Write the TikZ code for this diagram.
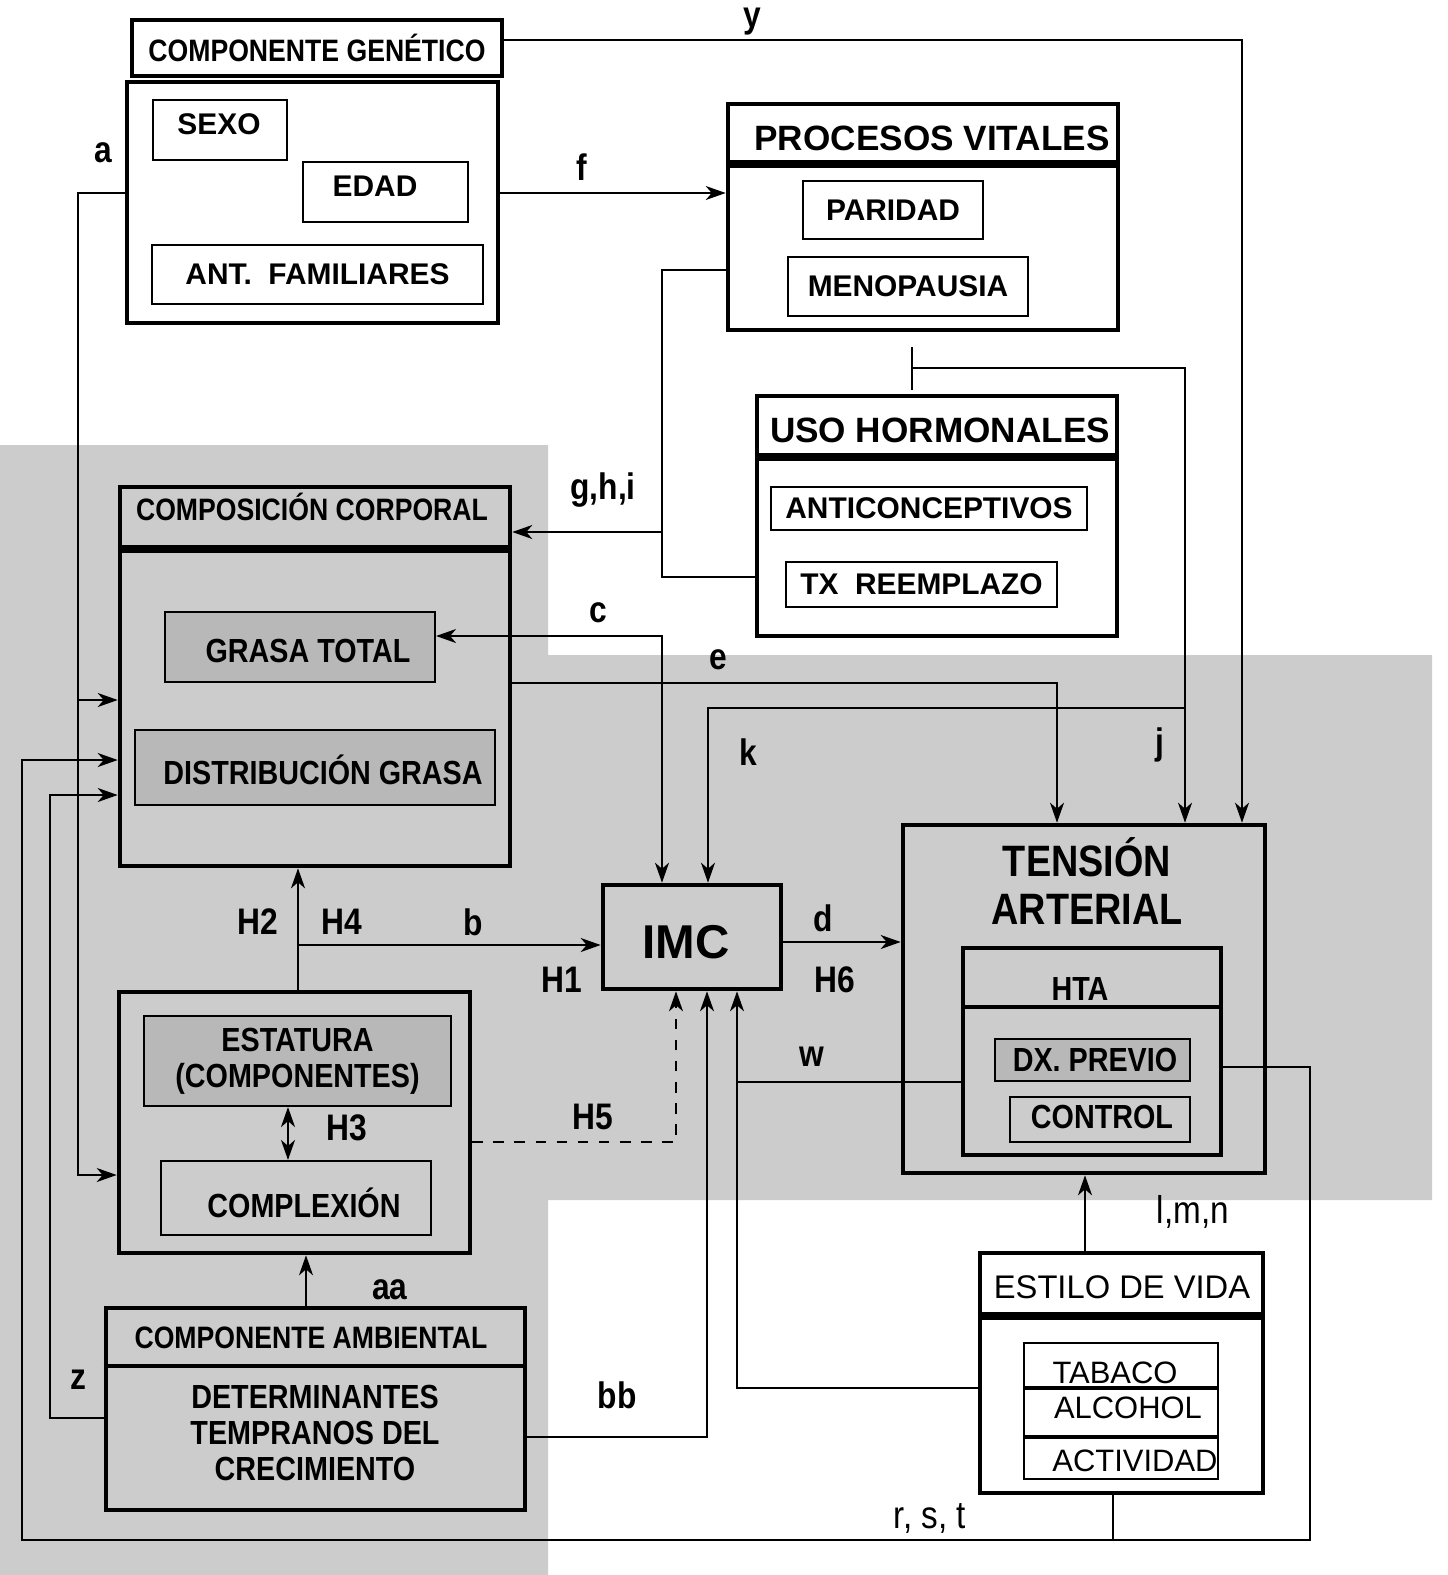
\documentclass[tikz,border=0pt]{standalone}
\usepackage{fontspec}
\setmainfont{Liberation Sans}
\newfontfamily\narrowsf[FakeStretch=0.86]{Liberation Sans}
\usetikzlibrary{positioning,arrows.meta,fit,calc}
\definecolor{bggray}{gray}{0.80}
\definecolor{boxgray}{gray}{0.72}
\tikzset{
  bigbox/.style={draw,line width=1.3pt,inner sep=0pt},
  midbox/.style={draw,line width=1.1pt,inner sep=0pt},
  smallbox/.style={draw,line width=0.6pt,inner sep=0pt},
  graybox/.style={fill=boxgray},
  sepline/.style={line width=2.1pt},
  link/.style={line width=0.55pt},
  arr/.style={link,-{Stealth[length=2mm,width=1.4mm,inset=0.6mm]}},
  dblarr/.style={link,{Stealth[length=2mm,width=1.4mm,inset=0.6mm]}-{Stealth[length=2mm,width=1.4mm,inset=0.6mm]}},
  bigtxt/.style={font=\bfseries\fontsize{10}{12}\selectfont,inner sep=0pt},
  wtxt/.style={font=\bfseries\fontsize{8.5}{10}\selectfont,inner sep=0pt},
  hdtxt/.style={font=\narrowsf\bfseries\fontsize{8.8}{10}\selectfont,inner sep=0pt},
  gtxt/.style={font=\narrowsf\bfseries\fontsize{9.5}{10.3}\selectfont,inner sep=0pt},
  tatxt/.style={font=\narrowsf\bfseries\fontsize{12.5}{13.7}\selectfont,inner sep=0pt},
  rtxt/.style={font=\fontsize{9.3}{11}\selectfont,inner sep=0pt},
  lsttxt/.style={font=\fontsize{8.8}{10}\selectfont,inner sep=0pt},
  lbl/.style={font=\narrowsf\bfseries\fontsize{10.5}{12}\selectfont,inner sep=0pt},
  lblr/.style={font=\narrowsf\fontsize{11}{12}\selectfont,inner sep=0pt},
}

\begin{document}
\begin{tikzpicture}[x=0.01cm,y=-0.01cm]

% fondo
\useasboundingbox (0,0) rectangle (1447,1575);
\fill[white] (0,0) rectangle (1447,1575);
\fill[bggray] (0,445) -- (548,445) -- (548,655) -- (1432,655) -- (1432,1200)
  -- (548,1200) -- (548,1575) -- (0,1575) -- cycle;

% componente genetico
\node[bigbox,fit={(132,20) (502,76)}] (genhead) {};
\node[hdtxt] at (genhead) {COMPONENTE GENÉTICO};
\node[bigbox,fit={(127,82) (498,323)}] (gen) {};
\node[smallbox,fit={(153,100) (287,160)}] (sexo) {};
\node[wtxt] at (219,124) {SEXO};
\node[smallbox,fit={(303,162) (468,222)}] (edad) {};
\node[wtxt] at (375,186) {EDAD};
\node[smallbox,fit={(152,245) (483,304)}] (antfam) {};
\node[wtxt] at (antfam) {ANT.\ \ FAMILIARES};

% procesos vitales
\node[bigbox,fit={(728,104) (1118,330)}] (proc) {};
\node[bigtxt] at (932,138) {PROCESOS VITALES};
\draw[sepline] (proc.west |- 0,164) -- (proc.east |- 0,164);
\node[smallbox,fit={(803,181) (983,239)}] (parid) {};
\node[wtxt] at (parid) {PARIDAD};
\node[smallbox,fit={(788,257) (1028,316)}] (menop) {};
\node[wtxt] at (menop) {MENOPAUSIA};

% uso hormonales
\node[bigbox,fit={(757,396) (1117,636)}] (uso) {};
\node[bigtxt] at (940,430) {USO HORMONALES};
\draw[sepline] (uso.west |- 0,457) -- (uso.east |- 0,457);
\node[smallbox,fit={(771,487) (1087,530)}] (antic) {};
\node[wtxt] at (antic) {ANTICONCEPTIVOS};
\node[smallbox,fit={(786,562) (1057,607)}] (txreem) {};
\node[wtxt] at (txreem) {TX\ \ REEMPLAZO};

% composicion corporal
\node[bigbox,fit={(120,487) (510,866)}] (comp) {};
\node[hdtxt] at (312,507) {COMPOSICIÓN CORPORAL};
\draw[sepline] (comp.west |- 0,549) -- (comp.east |- 0,549);
\node[smallbox,graybox,fit={(165,612) (435,682)}] (grasa) {};
\node[gtxt] at (308,651) {GRASA TOTAL};
\node[smallbox,graybox,fit={(135,730) (495,805)}] (distr) {};
\node[gtxt] at (323,770) {DISTRIBUCIÓN GRASA};

% imc
\node[bigbox,fit={(603,885) (781,989)}] (imc) {};
\node[font=\bfseries\fontsize{13.5}{15}\selectfont,inner sep=0pt] at (686,942) {IMC};

% tension arterial
\node[bigbox,fit={(903,825) (1265,1173)}] (tension) {};
\node[tatxt,align=center] at (1087,881) {TENSIÓN\\ARTERIAL};
\node[midbox,fit={(963,948) (1221,1155)}] (hta) {};
\node[gtxt] at (1080,989) {HTA};
\draw[line width=1.3pt] (hta.west |- 0,1007) -- (hta.east |- 0,1007);
\node[smallbox,graybox,fit={(995,1039) (1190,1081)}] (dxprev) {};
\node[gtxt] at (1095,1060) {DX. PREVIO};
\node[smallbox,fit={(1010,1097) (1190,1142)}] (control) {};
\node[gtxt] at (1102,1117) {CONTROL};

% estatura
\node[bigbox,fit={(119,992) (470,1253)}] (estat) {};
\node[smallbox,graybox,fit={(144,1016) (451,1106)}] (estin) {};
\node[gtxt,align=center] at (estin) {ESTATURA\\(COMPONENTES)};
\node[smallbox,fit={(161,1161) (431,1235)}] (complex) {};
\node[gtxt] at (304,1203) {COMPLEXIÓN};

% componente ambiental
\node[bigbox,fit={(106,1308) (525,1510)}] (amb) {};
\node[hdtxt] at (311,1338) {COMPONENTE AMBIENTAL};
\draw[line width=1.4pt] (amb.west |- 0,1366) -- (amb.east |- 0,1366);
\node[gtxt,align=center] at (315,1433) {DETERMINANTES\\TEMPRANOS DEL\\CRECIMIENTO};

% estilo de vida
\node[bigbox,fit={(980,1253) (1263,1493)}] (estilo) {};
\node[rtxt] at (1122,1287) {ESTILO DE VIDA};
\draw[sepline] (estilo.west |- 0,1316) -- (estilo.east |- 0,1316);
\node[smallbox,fit={(1024,1343) (1218,1479)}] (habitos) {};
\draw[line width=1pt] (habitos.west |- 0,1388) -- (habitos.east |- 0,1388);
\draw[line width=1pt] (habitos.west |- 0,1437) -- (habitos.east |- 0,1437);
\node[lsttxt] at (1115,1373) {TABACO};
\node[lsttxt] at (1128,1408) {ALCOHOL};
\node[lsttxt] at (1135,1461) {ACTIVIDAD};

% conectores
\draw[arr] (genhead.east |- 0,40) -| (tension.north -| 1242,0);
\draw[arr] (gen.east |- 0,193) -- (proc.west |- 0,193);
\draw[arr] (gen.west |- 0,193) -| (78,1175) -- (estat.west |- 0,1175);
\draw[arr] (78,700) -- (comp.west |- 0,700);
\draw[link] (proc.west |- 0,270) -| (662,577) -- (uso.west |- 0,577);
\draw[arr] (662,532) -- (comp.east |- 0,532);
\coordinate (jtop) at (912,347);
\coordinate (jbot) at (912,390);
\draw[link] (jtop) -- (jbot);
\draw[arr] (912,368) -| (tension.north -| 1185,0);
\draw[arr] (1185,708) -| (imc.north -| 708,0);
\draw[dblarr] (grasa.east |- 0,636) -| (imc.north -| 662,0);
\draw[arr] (comp.east |- 0,683) -| (tension.north -| 1057,0);
\draw[arr] (estat.north -| 298,0) -- (comp.south -| 298,0);
\draw[arr] (298,945) -- (imc.west |- 0,945);
\draw[arr] (imc.east |- 0,942) -- (tension.west |- 0,942);
\draw[dblarr] (estin.south -| 288,0) -- (complex.north -| 288,0);
\draw[arr,dashed] (estat.east |- 0,1142) -| (imc.south -| 676,0);
\draw[arr] (amb.east |- 0,1437) -| (imc.south -| 707,0);
\draw[link] (hta.west |- 0,1082) -- (737,1082);
\draw[arr] (estilo.west |- 0,1388) -| (imc.south -| 737,0);
\draw[arr] (hta.east |- 0,1067) -| (1310,1540) -| (22,760) -- (comp.west |- 0,760);
\draw[link] (estilo.south -| 1113,0) -- (1113,1540);
\draw[arr] (amb.west |- 0,1418) -| (50,795) -- (comp.west |- 0,795);
\draw[arr] (amb.north -| 306,0) -- (estat.south -| 306,0);
\draw[arr] (estilo.north -| 1085,0) -- (tension.south -| 1085,0);

% etiquetas
\node[lbl] at (752,22) {y};
\node[lbl] at (582,167) {f};
\node[lbl] at (103,153) {a};
\node[lbl] at (603,490) {g,h,i};
\node[lbl] at (598,613) {c};
\node[lbl] at (718,660) {e};
\node[lbl] at (748,752) {k};
\node[lbl] at (1160,745) {j};
\node[lbl] at (258,922) {H2};
\node[lbl] at (342,922) {H4};
\node[lbl] at (473,922) {b};
\node[lbl] at (562,980) {H1};
\node[lbl] at (823,918) {d};
\node[lbl] at (835,980) {H6};
\node[lbl] at (347,1128) {H3};
\node[lbl] at (593,1117) {H5};
\node[lbl] at (812,1057) {w};
\node[lbl] at (390,1290) {aa};
\node[lbl] at (78,1380) {z};
\node[lbl] at (617,1395) {bb};
\node[lblr] at (1193,1212) {l,m,n};
\node[lblr] at (930,1518) {r, s, t};

\end{tikzpicture}
\end{document}
